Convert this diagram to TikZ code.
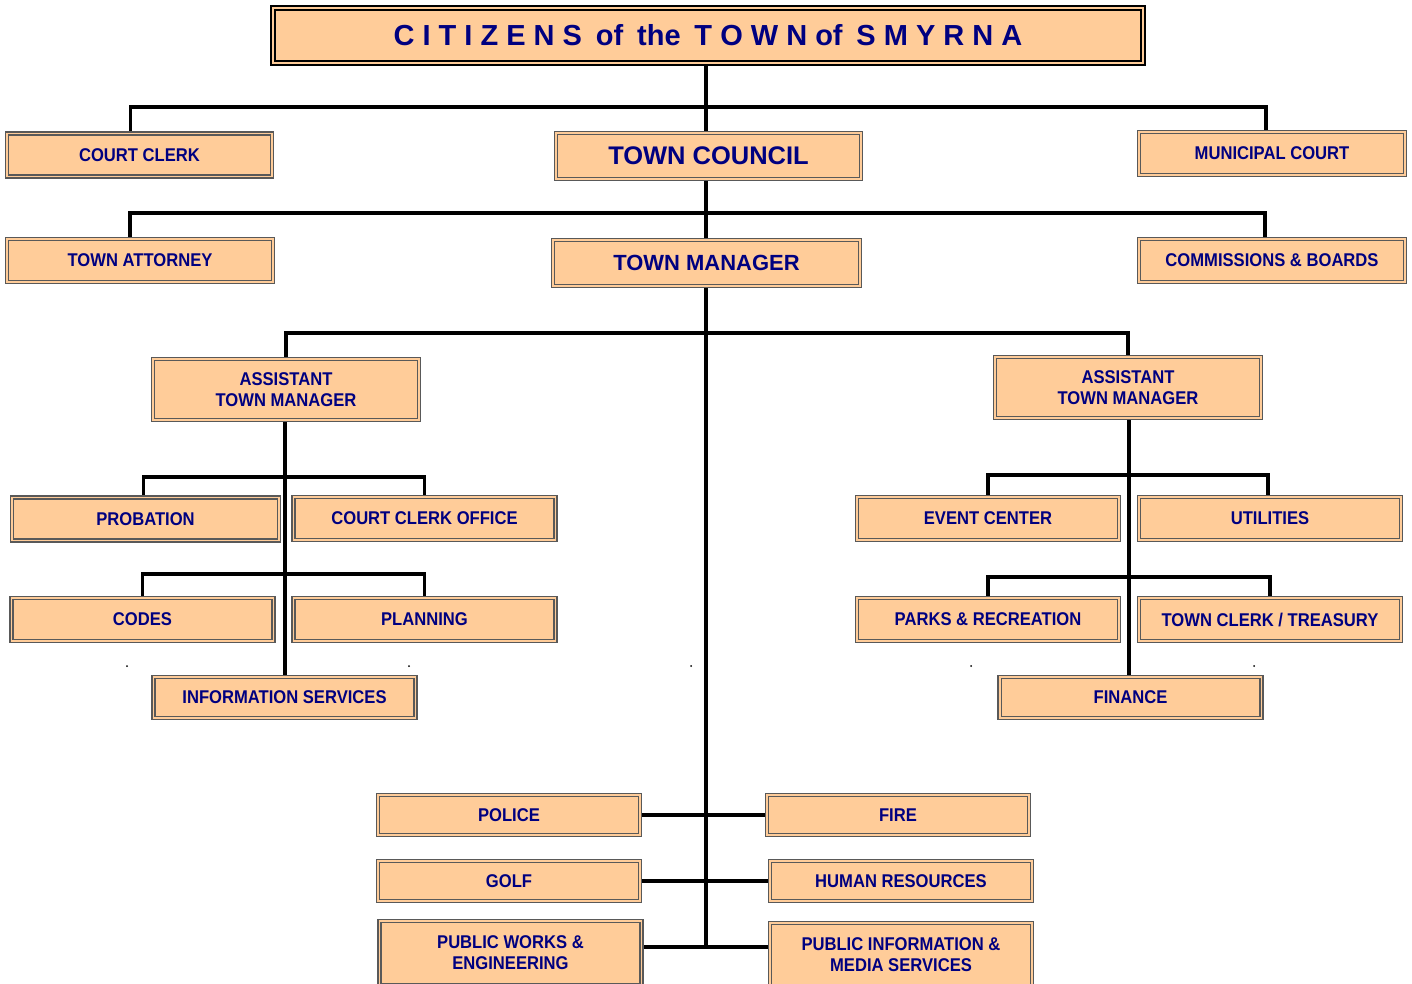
\documentclass[tikz,border=0pt]{standalone}
\usepackage{fontspec}
\setmainfont{Liberation Sans}
\newfontfamily\orgfont{Liberation Sans}[FakeStretch=0.9]
\usepackage{tikz}
\usetikzlibrary{positioning,calc,backgrounds}
\definecolor{boxfill}{HTML}{FFCC99}
\definecolor{boxtext}{HTML}{000080}
\newcommand{\wgap}{\ \hspace{0.2em}}
\tikzset{
    every node/.style={font=\orgfont\bfseries\fontsize{10.5}{12}\selectfont, text=boxtext},
    orgbox/.style={draw=black!65, double=boxfill, double distance=1.1pt, line width=0.7pt, fill=boxfill, align=center, minimum width=5.24cm, minimum height=0.86cm, inner sep=1pt},
    bigbox/.style={orgbox, minimum width=6.1cm, minimum height=0.92cm},
    tallbox/.style={orgbox, minimum height=1.22cm},
    titlebox/.style={draw=black, double=boxfill, double distance=1.4pt, line width=1pt, fill=boxfill, minimum width=17.4cm, minimum height=1.1cm, font=\bfseries\fontsize{16.5}{19}\selectfont},
    link/.style={line width=2pt},
}

\begin{document}
\begin{tikzpicture}[x=0.02cm, y=-0.02cm]
  \useasboundingbox (0,0) rectangle (1412,983);
  % top of the chart
  \node[titlebox] (title) at (708,35.5) {C I T I Z E N S\wgap of\wgap the\wgap T O W N of\wgap S M Y R N A};
  \node[orgbox, minimum width=5.3cm] (courtclerk) at (139.5,155) {COURT CLERK};
  \node[bigbox, font=\bfseries\fontsize{14.5}{16}\selectfont] (council) at (708.5,156) {TOWN COUNCIL};
  \node[orgbox, minimum width=5.32cm] (municipal) at (1272,153.5) {MUNICIPAL COURT};
  \node[orgbox, minimum width=5.32cm] (attorney) at (140,260.5) {TOWN ATTORNEY};
  \node[bigbox, minimum width=6.14cm, font=\bfseries\fontsize{12.5}{14}\selectfont] (manager) at (706.5,263) {TOWN MANAGER};
  \node[orgbox, minimum width=5.32cm] (commissions) at (1272,260.5) {COMMISSIONS \& BOARDS};
  % assistants
  \node[tallbox, minimum width=5.32cm] (atmL) at (286,389.5) {ASSISTANT\\TOWN MANAGER};
  \node[tallbox, minimum width=5.32cm] (atmR) at (1128,387.5) {ASSISTANT\\TOWN MANAGER};
  % left side departments
  \node[orgbox, minimum width=5.34cm] (probation) at (145.5,519) {PROBATION};
  \node[orgbox] (cco) at (424.5,518.5) {COURT CLERK OFFICE};
  \node[orgbox] (codes) at (142.5,619.5) {CODES};
  \node[orgbox] (planning) at (424.5,619.5) {PLANNING};
  \node[orgbox, minimum height=0.82cm] (infoserv) at (284.5,697.5) {INFORMATION SERVICES};
  % right side departments
  \node[orgbox] (event) at (988,518.5) {EVENT CENTER};
  \node[orgbox] (utilities) at (1270,518.5) {UTILITIES};
  \node[orgbox] (parks) at (988,619.5) {PARKS \& RECREATION};
  \node[orgbox] (treasury) at (1270,619.5) {TOWN CLERK / TREASURY};
  \node[orgbox, minimum height=0.82cm] (finance) at (1130.5,697.5) {FINANCE};
  % under the town manager
  \node[orgbox, minimum height=0.8cm] (police) at (509,815) {POLICE};
  \node[orgbox, minimum height=0.8cm] (fire) at (898,815) {FIRE};
  \node[orgbox, minimum height=0.8cm] (golf) at (509,881) {GOLF};
  \node[orgbox, minimum height=0.8cm] (hr) at (901,881) {HUMAN RESOURCES};
  \node[tallbox, minimum height=1.28cm] (pubworks) at (510.5,953) {PUBLIC WORKS \&\\ENGINEERING};
  \node[tallbox, minimum height=1.28cm] (pubinfo) at (901,955) {PUBLIC INFORMATION \&\\MEDIA SERVICES};
  % bus points
  \coordinate (bus1) at (706,107);
  \coordinate (bus2) at (706,213);
  \coordinate (bus3) at (706,333);
  \coordinate (busL1) at (285,477);
  \coordinate (busL2) at (285,574);
  \coordinate (busR1) at (1129,475);
  \coordinate (busR2) at (1129,577);
  \coordinate (trunkend) at (706,947);
  \begin{scope}[on background layer]
    \draw[link] (title.south -| trunkend) -- (trunkend);
    \draw[link] ($(courtclerk.north)+(-9,0)$) |- (bus1) -| ($(municipal.north)+(-6,0)$);
    \draw[link] ($(attorney.north)+(-10,0)$) |- (bus2) -| ($(commissions.north)+(-7,0)$);
    \draw[link] (atmL.north) |- (bus3) -| (atmR.north);
    \draw[link] (atmL.south -| busL1) -- (infoserv.north -| busL1);
    \draw[link] ($(probation.north)+(-2,0)$) |- (busL1) -| (cco.north);
    \draw[link] (codes.north) |- (busL2) -| (planning.north);
    \draw[link] (atmR.south -| busR1) -- (finance.north -| busR1);
    \draw[link] (event.north) |- (busR1) -| ($(utilities.north)+(-2,0)$);
    \draw[link] (parks.north) |- (busR2) -| (treasury.north);
    \draw[link] (police.east) -- (fire.west);
    \draw[link] (golf.east) -- (hr.west);
    \draw[link] (pubworks.east |- trunkend) -- (pubinfo.west |- trunkend);
  \end{scope}
  \foreach \x in {127,409,691,971,1254}
    \fill (\x,666) circle (1);
\end{tikzpicture}
\end{document}
